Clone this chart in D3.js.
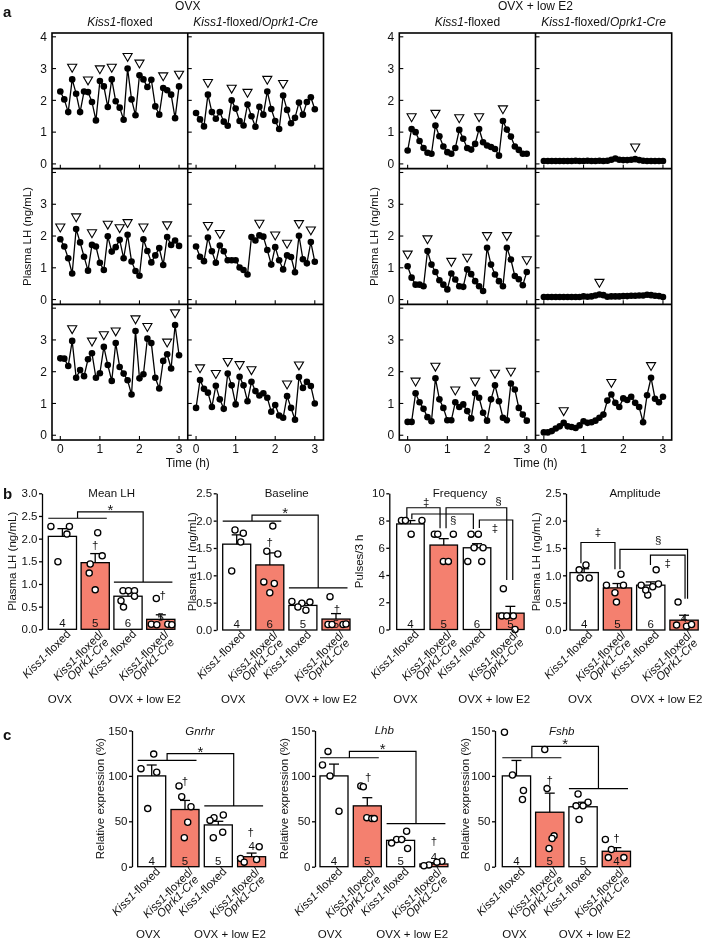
<!DOCTYPE html>
<html><head><meta charset="utf-8">
<script src="https://cdn.jsdelivr.net/npm/d3@7"></script>
<style>
body{margin:0;background:#fff;}
#fig{will-change:transform;opacity:0.999;}
svg text{font-family:"Liberation Sans", Arial, Helvetica, sans-serif;fill:#111;}
</style></head><body>
<svg id="fig" width="703" height="939"></svg>
<script>
// ================= DATA =================
// Panel a: sampling times (h) and plasma LH (ng/mL) traces
const timeH = [0.0,0.1,0.2,0.3,0.4,0.5,0.6,0.7,0.8,0.9,1.0,1.1,1.2,1.3,1.4,1.5,1.6,1.7,1.8,1.9,2.0,2.1,2.2,2.3,2.4,2.5,2.6,2.7,2.8,2.9,3.0];
const ovxFlox1 = [2.28,2.03,1.63,2.66,2.21,1.63,2.28,2.26,1.95,1.37,2.61,2.44,1.79,2.66,1.97,1.77,1.39,3.0,2.03,1.53,2.79,2.66,2.42,2.65,1.81,1.55,2.39,2.32,2.18,1.44,2.44];
const ovxCre1  = [1.6,1.4,1.18,2.18,1.63,1.42,1.63,1.33,1.2,2.0,1.74,1.35,1.21,1.87,1.5,1.17,1.8,1.55,2.28,1.73,1.35,1.1,2.15,1.7,1.28,1.45,1.93,1.55,1.95,2.1,1.72];
const e2Flox1  = [0.42,1.1,1.0,0.72,0.5,0.35,0.32,1.21,0.87,0.55,0.37,0.32,0.5,1.07,0.79,0.5,0.45,0.63,1.1,0.68,0.58,0.53,0.47,0.26,1.35,1.08,0.86,0.55,0.44,0.32,0.32];
const e2Cre1   = [0.09,0.09,0.09,0.09,0.09,0.09,0.09,0.09,0.1,0.09,0.09,0.1,0.09,0.09,0.1,0.09,0.1,0.13,0.17,0.13,0.12,0.12,0.13,0.15,0.12,0.1,0.09,0.09,0.09,0.09,0.09];
const ovxFlox2 = [1.9,1.67,1.3,0.82,2.22,1.8,1.35,0.91,1.72,1.67,1.16,0.93,1.99,1.51,1.65,1.88,1.3,2.04,1.2,0.9,0.75,1.9,1.53,1.17,1.39,1.62,1.09,1.97,1.72,1.86,1.69];
const ovxCre2  = [1.67,1.35,1.21,1.95,1.52,1.16,1.7,1.52,1.24,1.24,1.24,1.01,0.93,0.79,1.97,1.86,2.02,1.98,1.56,1.1,1.65,1.24,0.95,1.39,1.34,0.86,2.01,1.27,1.14,1.81,1.19];
const e2Flox2  = [1.05,0.69,0.47,0.47,0.42,1.53,1.1,0.87,0.61,0.47,0.32,0.82,0.63,0.42,0.4,0.95,0.8,0.58,0.42,0.27,1.63,1.1,0.79,0.58,0.42,1.63,1.26,0.74,0.64,0.45,0.87];
const e2Cre2   = [0.08,0.08,0.08,0.08,0.08,0.08,0.08,0.08,0.08,0.08,0.1,0.09,0.1,0.13,0.16,0.14,0.09,0.1,0.1,0.1,0.11,0.11,0.12,0.12,0.13,0.13,0.15,0.14,0.12,0.11,0.08];
const ovxFlox3 = [2.42,2.41,2.18,2.97,1.81,2.05,1.86,2.39,2.58,1.81,1.95,2.78,2.21,1.71,2.9,2.15,1.94,1.73,1.28,3.28,1.79,1.92,3.04,2.9,1.81,1.47,2.34,2.55,2.1,3.47,2.52];
const ovxCre3  = [0.86,1.74,1.46,1.34,0.89,1.56,1.13,0.83,1.94,1.57,0.97,1.84,1.57,1.07,1.68,1.39,1.25,1.32,1.18,0.74,0.95,0.62,0.55,1.23,0.86,0.49,1.83,1.49,1.68,1.55,1.0];
const e2Flox3  = [0.42,0.42,1.32,1.04,0.83,0.57,0.44,1.79,1.13,0.86,0.47,0.47,1.04,0.89,0.97,0.76,0.53,1.32,1.18,0.71,0.46,1.13,1.57,1.07,0.55,0.47,1.63,1.44,0.86,0.65,0.46];
const e2Cre3   = [0.09,0.09,0.13,0.21,0.28,0.39,0.28,0.26,0.23,0.31,0.44,0.39,0.41,0.46,0.55,0.65,1.09,1.28,1.02,0.89,1.16,1.11,1.21,1.02,0.89,0.41,1.26,1.81,1.15,1.04,1.21];
// pulse peaks (sample index)
const pOvxFlox1=[3,7,10,13,17,20,26,30], pOvxCre1=[3,9,13,18,22], pE2Flox1=[1,7,13,18,24], pE2Cre1=[23];
const pOvxFlox2=[0,4,8,12,15,17,21,27], pOvxCre2=[3,6,16,20,23,26,29], pE2Flox2=[0,5,11,15,20,25,30], pE2Cre2=[14];
const pOvxFlox3=[3,8,11,14,19,22,27,29], pOvxCre3=[1,5,8,11,14,23,26], pE2Flox3=[2,7,12,17,22,26], pE2Cre3=[5,17,27];
const aYTicks=[0,1,2,3,4];
const aXTicks=[0,1,2,3];

// Panels b, c: groups
const genotypes=["flox","cre","flox","cre"];
const treatments=["OVX","OVX + low E2"];
// b
const meanLH=[2.05,1.47,0.73,0.22], meanLHsem=[0.17,0.20,0.08,0.10], meanLHn=[4,5,6,5];
const meanLHpts=[[2.27,2.27,2.1,1.49],[2.13,1.62,1.44,1.24,0.87],[0.85,0.85,0.85,0.73,0.63,0.49],[0.68,0.11,0.1,0.11,0.1]];
const baseLH=[1.57,1.19,0.45,0.2], baseLHsem=[0.17,0.22,0.04,0.1], baseLHn=[4,6,5,5];
const baseLHpts=[[1.83,1.77,1.61,1.08],[1.9,1.39,1.44,0.88,0.85,0.68],[0.52,0.51,0.49,0.42,0.36],[0.61,0.1,0.1,0.11,0.1]];
const freq=[7.75,6.2,6.0,1.2], freqSem=[0.25,0.47,0.3,0.5], freqN=[4,5,6,5];
const freqPts=[[8,8,8,7],[7,7,7,5,5],[7,7,6,6,5,5],[3,1,1,1,0]];
const ampl=[1.05,0.77,0.82,0.18], amplSem=[0.07,0.08,0.06,0.09], amplN=[4,5,6,4];
const amplPts=[[1.1,1.19,0.95,0.95],[1.02,0.82,0.82,0.68,0.51],[1.1,0.84,0.82,0.79,0.64,0.73],[0.51,0.09,0.07,0.1]];
// c
const gnrhr=[100,63,46,11], gnrhrSem=[12,10,4,4], gnrhrN=[4,5,5,4];
const gnrhrPts=[[124,108,104,64],[89,77,66,49,32],[57,54,51,38,32],[22,9,8,5]];
const lhb=[100,67,29,3], lhbSem=[13,9,2,1.5], lhbN=[4,5,5,4];
const lhbPts=[[127,112,100,61],[89,88,54,53,53],[39,30,30,26,20],[6,5,2,1]];
const fshb=[100,60,66,17], fshbSem=[17,21,5,4], fshbN=[4,5,5,4];
const fshbPts=[[148,101,84,74],[129,86,34,31,20],[80,71,67,67,52],[30,19,10,10]];
const ticksLH3=[0,0.5,1,1.5,2,2.5,3], ticksLH25=[0,0.5,1,1.5,2,2.5], ticksFreq=[0,2,4,6,8,10], ticksExpr=[0,50,100,150];

// ================= DRAW =================
const svg=d3.select("#fig");
const RED="#f4806f";

function geno(t, cre, withSlashOnly){
  t.append("tspan").style("font-style","italic").text("Kiss1");
  t.append("tspan").text(cre ? "-floxed/" : "-floxed");
  if(cre && !withSlashOnly) t.append("tspan").style("font-style","italic").text("Oprk1-Cre");
}

// ---------- panel a ----------
svg.append("text").attr("x",3).attr("y",17).style("font-size","15px").style("font-weight","bold").text("a");
const rowTop=33, rowH=135.67;
const aBlocks=[
  {x0:52, x1:323.5, ylabX:31, treat:"OVX",
   grid:[[ovxFlox1,ovxCre1],[ovxFlox2,ovxCre2],[ovxFlox3,ovxCre3]],
   peaks:[[pOvxFlox1,pOvxCre1],[pOvxFlox2,pOvxCre2],[pOvxFlox3,pOvxCre3]]},
  {x0:399.3, x1:671.7, ylabX:378, treat:"OVX + low E2",
   grid:[[e2Flox1,e2Cre1],[e2Flox2,e2Cre2],[e2Flox3,e2Cre3]],
   peaks:[[pE2Flox1,pE2Cre1],[pE2Flox2,pE2Cre2],[pE2Flox3,pE2Cre3]]}
];
aBlocks.forEach(B=>{
  const g=svg.append("g");
  const subW=(B.x1-B.x0)/2;
  const cx=(B.x0+B.x1)/2;
  g.append("text").attr("x",cx).attr("y",10).attr("text-anchor","middle").style("font-size","12px").text(B.treat);
  [0,1].forEach(c=>{
    const t=g.append("text").attr("x",B.x0+subW*c+subW/2).attr("y",26).attr("text-anchor","middle").style("font-size","12px");
    geno(t,c===1);
  });
  for(let r=0;r<3;r++){
    const top=rowTop+r*rowH;
    const y=d3.scaleLinear().domain([-0.15,4.12]).range([top+rowH,top]);
    for(let c=0;c<2;c++){
      const sx0=B.x0+c*subW;
      const x=d3.scaleLinear().domain([-0.21,3.22]).range([sx0,sx0+subW]);
      const vals=B.grid[r][c];
      const pts=timeH.map((t,i)=>[t,vals[i]]);
      g.append("path").attr("d",d3.line().x(d=>x(d[0])).y(d=>y(d[1]))(pts))
        .attr("fill","none").attr("stroke","#000").attr("stroke-width",1.3);
      g.selectAll(null).data(pts).enter().append("circle")
        .attr("cx",d=>x(d[0])).attr("cy",d=>y(d[1])).attr("r",3.3).attr("fill","#000");
      const tri=d3.symbol().type(d3.symbolTriangle).size(36);
      g.selectAll(null).data(B.peaks[r][c]).enter().append("path")
        .attr("d",tri()).attr("transform",i=>`translate(${x(timeH[i])},${y(vals[i])-12.5}) rotate(180)`)
        .attr("fill","#fff").attr("stroke","#000").attr("stroke-width",1.1);
      aXTicks.forEach(tv=>{
        g.append("line").attr("x1",x(tv)).attr("x2",x(tv)).attr("y1",top+rowH).attr("y2",top+rowH-4)
          .attr("stroke","#000").attr("stroke-width",1.1);
        if(r===2) g.append("text").attr("x",x(tv)).attr("y",top+rowH+12.5).attr("text-anchor","middle").style("font-size","12px").text(tv);
      });
      aYTicks.forEach(tv=>{
        g.append("line").attr("x1",sx0).attr("x2",sx0+4).attr("y1",y(tv)).attr("y2",y(tv)).attr("stroke","#000").attr("stroke-width",1.1);
        if(c===0 && (r===0 || tv<4)) g.append("text").attr("x",sx0-5).attr("y",y(tv)).attr("dy","0.35em").attr("text-anchor","end").style("font-size","12px").text(tv);
      });
    }
  }
  const fb=rowTop+3*rowH;
  g.append("rect").attr("x",B.x0).attr("y",rowTop).attr("width",B.x1-B.x0).attr("height",3*rowH).attr("fill","none").attr("stroke","#000").attr("stroke-width",1.6);
  g.append("line").attr("x1",cx).attr("x2",cx).attr("y1",rowTop).attr("y2",fb).attr("stroke","#000").attr("stroke-width",1.6);
  [1,2].forEach(r=>g.append("line").attr("x1",B.x0).attr("x2",B.x1).attr("y1",rowTop+r*rowH).attr("y2",rowTop+r*rowH).attr("stroke","#000").attr("stroke-width",1.6));
  g.append("text").attr("x",cx).attr("y",fb+26.5).attr("text-anchor","middle").style("font-size","12px").text("Time (h)");
  g.append("text").attr("transform",`translate(${B.ylabX},${rowTop+1.5*rowH}) rotate(-90)`).attr("text-anchor","middle").style("font-size","11.5px").text("Plasma LH (ng/mL)");
});

// ---------- panels b, c ----------
svg.append("text").attr("x",3).attr("y",499).style("font-size","15px").style("font-weight","bold").text("b");
svg.append("text").attr("x",3).attr("y",740).style("font-size","15px").style("font-weight","bold").text("c");

function barChart(cfg){
  const g=svg.append("g");
  const y=d3.scaleLinear().domain(cfg.yDomain).range([cfg.y0,cfg.yTop]);
  const x=d3.scaleBand().domain(d3.range(cfg.means.length))
    .range([cfg.bar0,cfg.bar0+3*cfg.step+cfg.bw]).paddingInner((cfg.step-cfg.bw)/cfg.step).paddingOuter(0);
  const bw=x.bandwidth();
  const cxOf=i=>x(i)+bw/2;
  const ax=g.append("g").attr("transform",`translate(${cfg.axisX},0)`)
    .call(d3.axisLeft(y).tickValues(cfg.ticks).tickFormat(cfg.fmt).tickSize(3).tickSizeOuter(0).tickPadding(1.5));
  ax.selectAll("path,line").attr("stroke","#000").attr("stroke-width",1.3);
  ax.selectAll("text").style("font-size","11.5px").style("font-family",'"Liberation Sans", Arial, sans-serif').attr("fill","#111");
  const tt=g.append("text").attr("x",cfg.titleX).attr("y",cfg.titleY).attr("text-anchor","middle").style("font-size","11.5px").text(cfg.title);
  if(cfg.titleItalic) tt.style("font-style","italic");
  g.append("text").attr("transform",`translate(${cfg.ylabX},${(cfg.y0+cfg.yTop)/2}) rotate(-90)`).attr("text-anchor","middle").style("font-size","11.5px").text(cfg.ylab);
  cfg.means.forEach((m,i)=>{
    g.append("rect").attr("x",x(i)).attr("y",y(m)).attr("width",bw).attr("height",cfg.y0-y(m))
      .attr("fill",genotypes[i]==="cre"?RED:"#fff").attr("stroke","#000").attr("stroke-width",1.3);
    const c=cxOf(i);
    g.append("line").attr("x1",c).attr("x2",c).attr("y1",y(m)).attr("y2",y(m+cfg.sem[i])).attr("stroke","#000").attr("stroke-width",1.3);
    g.append("line").attr("x1",c-5).attr("x2",c+5).attr("y1",y(m+cfg.sem[i])).attr("y2",y(m+cfg.sem[i])).attr("stroke","#000").attr("stroke-width",1.3);
  });
  cfg.n.forEach((n,i)=>{
    const yy = cfg.nAbove && cfg.nAbove[i]!=null ? y(cfg.nAbove[i]) : cfg.y0-6;
    g.append("text").attr("x",cxOf(i)).attr("y",yy).attr("dy","0.36em").attr("text-anchor","middle").style("font-size","11.5px").text(n);
  });
  cfg.pts.forEach((arr,i)=>{
    arr.forEach((v,j)=>{
      g.append("circle").attr("cx",cxOf(i)+cfg.jit[i][j]).attr("cy",y(v)).attr("r",3.1)
        .attr("fill","#fff").attr("stroke","#000").attr("stroke-width",1.3);
    });
  });
  (cfg.daggers||[]).forEach(d=>{
    g.append("text").attr("x",cxOf(d.bar)+d.dx).attr("y",y(d.v)).attr("dy","0.36em").attr("text-anchor","middle").style("font-size","11.5px").text("\u2020");
  });
  if(cfg.group){
    const G=cfg.group;
    const l1=x(0), r1=x(1)+bw-2.5, l2=x(2), r2=x(3)+bw-2.5;
    const m1=(l1+r1)/2, m2=(l2+r2)/2;
    const path=`M${l1},${y(G.v1)}H${r1}M${m1},${y(G.v1)}V${y(G.top)}H${m2}V${y(G.v2)}M${l2},${y(G.v2)}H${r2}`;
    g.append("path").attr("d",path).attr("fill","none").attr("stroke","#000").attr("stroke-width",1.2);
    g.append("text").attr("x",(m1+m2)/2).attr("y",y(G.top)+3).attr("text-anchor","middle").style("font-size","15px").text("*");
  }
  (cfg.pairs||[]).forEach(P=>{
    const xa=cxOf(P.a)+P.dxA, xb=cxOf(P.b)+P.dxB;
    g.append("path").attr("d",`M${xa},${y(P.vA)}V${y(P.top)}H${xb}V${y(P.vB)}`).attr("fill","none").attr("stroke","#000").attr("stroke-width",1.2);
    g.append("text").attr("x",(xa+xb)/2+P.lx).attr("y",y(P.lv)).attr("dy","0.36em").attr("text-anchor","middle").style("font-size","11.5px").text(P.label);
  });
  genotypes.forEach((gt,i)=>{
    const ox=cxOf(i)+9, oy=cfg.y0+5.5;
    const lg=g.append("g").attr("transform",`translate(${ox},${oy}) rotate(-45)`);
    const t=lg.append("text").attr("text-anchor","end").attr("y",0).style("font-size","11.5px");
    geno(t,gt==="cre",true);
    if(gt==="cre") lg.append("text").attr("text-anchor","end").attr("x",-2).attr("y",9.5).style("font-size","11.5px").style("font-style","italic").text("Oprk1-Cre");
  });
  g.append("text").attr("x",cxOf(0)+cfg.ovxDx).attr("y",cfg.grpY).attr("text-anchor","middle").style("font-size","11.5px").text(treatments[0]);
  g.append("text").attr("x",(cxOf(2)+cxOf(3))/2+cfg.e2Dx).attr("y",cfg.grpY).attr("text-anchor","middle").style("font-size","11.5px").text(treatments[1]);
}

const f1=d3.format(".1f"), f0=d3.format("d");
barChart({means:meanLH,sem:meanLHsem,n:meanLHn,pts:meanLHpts,yDomain:[0,3],y0:629.3,yTop:493.3,ticks:ticksLH3,fmt:f1,
  axisX:42,bar0:48.3,step:32.8,bw:28.2,title:"Mean LH",titleX:111.7,titleY:497,ylab:"Plasma LH (ng/mL)",ylabX:16,
  jit:[[-11.5,7,4.5,-4.5],[2.5,7,-5,-6,0],[-5,0.5,6.5,6.5,-7,-4.5],[-4.5,-9.5,-4,7,11]],
  nAbove:[null,null,null,0.28],daggers:[{bar:1,v:1.86,dx:0},{bar:3,v:0.76,dx:2}],
  group:{v1:2.45,top:2.59,v2:1.04},ovxDx:-2.5,e2Dx:0.5,grpY:703});
barChart({means:baseLH,sem:baseLHsem,n:baseLHn,pts:baseLHpts,yDomain:[0,2.5],y0:630,yTop:493.3,ticks:ticksLH25,fmt:f1,
  axisX:216.7,bar0:222.7,step:33.1,bw:28,title:"Baseline",titleX:286.7,titleY:497,ylab:"Plasma LH (ng/mL)",ylabX:196,
  jit:[[-1.7,6.6,4,-5],[3,8,-3,-6,4.5,0],[-11,7,-1,-5,3],[-6,-8,7,10,-4]],
  daggers:[{bar:1,v:1.61,dx:0},{bar:3,v:0.38,dx:1}],
  group:{v1:1.99,top:2.1,v2:0.77},ovxDx:-3.5,e2Dx:1.5,grpY:703});
barChart({means:freq,sem:freqSem,n:freqN,pts:freqPts,yDomain:[0,10],y0:629.5,yTop:493.3,ticks:ticksFreq,fmt:f0,
  axisX:389.3,bar0:396.7,step:33.3,bw:27.5,title:"Frequency",titleX:460,titleY:497,ylab:"Pulses/3 h",ylabX:363,
  jit:[[-9,-5,11.5,0.7],[-9.4,-6,9.6,-0.4,4.6],[-6,1.3,-3,6,-9.3,4.7],[-7,-8.6,-3.6,3,4.7]],
  pairs:[
    {a:0,b:1,dxA:-3.6,dxB:-3.7,top:8.94,vA:8.16,vB:7.43,label:"\u2021",lx:2.7,lv:9.36},
    {a:0,b:2,dxA:1.4,dxB:-3.7,top:8.48,vA:8.11,vB:7.38,label:"\u00a7",lx:10.5,lv:8.04},
    {a:1,b:3,dxA:2.3,dxB:-3.6,top:8.94,vA:7.43,vB:3.63,label:"\u00a7",lx:22,lv:9.43},
    {a:2,b:3,dxA:2.3,dxB:2.4,top:8.04,vA:7.45,vB:3.63,label:"\u2021",lx:-1,lv:7.45}],
  ovxDx:-5,e2Dx:0.5,grpY:703});
barChart({means:ampl,sem:amplSem,n:amplN,pts:amplPts,yDomain:[0,2.5],y0:630,yTop:493.3,ticks:ticksLH25,fmt:f1,
  axisX:566,bar0:570,step:33.3,bw:28.3,title:"Amplitude",titleX:635,titleY:497,ylab:"Plasma LH (ng/mL)",ylabX:540,
  jit:[[-5,1.8,-4,5],[3.5,-11,6,-2.5,-1],[5.4,7.7,-9.6,2,-3,-5],[-6,-7.5,2.5,7.5]],
  nAbove:[null,null,null,0.22],
  pairs:[
    {a:0,b:1,dxA:-3.2,dxB:-2.5,top:1.6,vA:1.22,vB:1.11,label:"\u2021",lx:0,lv:1.79},
    {a:1,b:3,dxA:2.5,dxB:3.5,top:1.475,vA:1.11,vB:0.57,label:"\u00a7",lx:4.4,lv:1.65},
    {a:2,b:3,dxA:-0.3,dxB:1,top:1.37,vA:1.19,vB:0.57,label:"\u2021",lx:0,lv:1.22}],
  ovxDx:-4,e2Dx:-1,grpY:703});

barChart({means:gnrhr,sem:gnrhrSem,n:gnrhrN,pts:gnrhrPts,yDomain:[0,150],y0:866.7,yTop:730.5,ticks:ticksExpr,fmt:f0,
  axisX:132,bar0:137.7,step:33.3,bw:28,title:"Gnrhr",titleItalic:true,titleX:200,titleY:735,ylab:"Relative expression (%)",ylabX:104,
  jit:[[2,-10.7,5,-4],[-6,-3.3,6,2.7,-0.7],[5,-4.3,-8.3,4.4,-5],[7.6,-11,5,-7.4]],
  nAbove:[null,null,null,22.6],daggers:[{bar:1,v:95,dx:0},{bar:3,v:38,dx:-1}],
  group:{v1:117,top:124.5,v2:67},ovxDx:-3.5,e2Dx:-5,grpY:938});
barChart({means:lhb,sem:lhbSem,n:lhbN,pts:lhbPts,yDomain:[0,150],y0:866.7,yTop:730.5,ticks:ticksExpr,fmt:f0,
  axisX:315,bar0:320,step:33.3,bw:28,title:"Lhb",titleItalic:true,titleX:384.3,titleY:734,ylab:"Relative expression (%)",ylabX:288,
  jit:[[-6,-11.5,-4,5],[-6.5,-4,-0.5,4.5,7],[6,-4,1,-9,7],[8,3,-5,-10]],
  nAbove:[null,null,null,11],daggers:[{bar:1,v:99,dx:1},{bar:3,v:28,dx:0}],
  group:{v1:120,top:127,v2:47.5},ovxDx:-4,e2Dx:-5,grpY:938});
barChart({means:fshb,sem:fshbSem,n:fshbN,pts:fshbPts,yDomain:[0,150],y0:866.7,yTop:730.5,ticks:ticksExpr,fmt:f0,
  axisX:495,bar0:502.3,step:33.3,bw:28.3,title:"Fshb",titleItalic:true,titleX:561.7,titleY:735,ylab:"Relative expression (%)",ylabX:469,
  jit:[[-12,-4,7,6],[-5,-2.7,4.3,2.3,-0.7],[-5,5,-7,0,-4],[-11,-5,-8,7.5]],
  daggers:[{bar:1,v:96,dx:0},{bar:3,v:32,dx:0}],
  group:{v1:120,top:132.5,v2:86},ovxDx:-2,e2Dx:-5,grpY:938});
</script>
</body></html>
